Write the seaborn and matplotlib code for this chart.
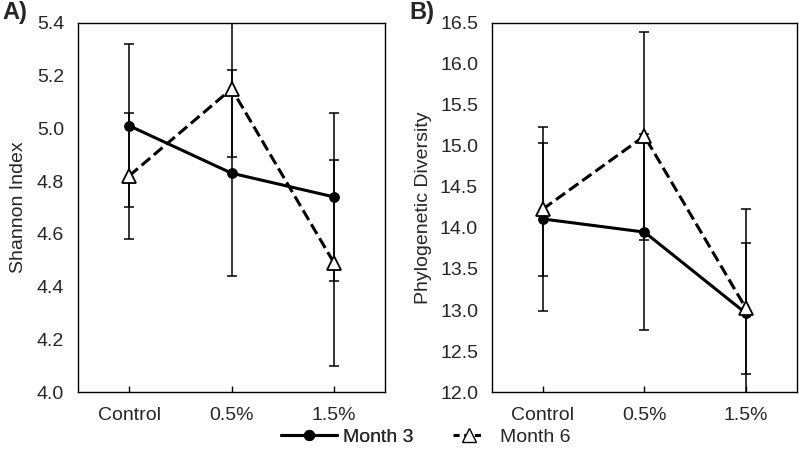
import numpy as np
import pandas as pd
import seaborn as sns
import matplotlib.pyplot as plt
from matplotlib.lines import Line2D

# dati
groups = ["Control", "0.5%", "1.5%"]

shannon_m3 = [5.01, 4.83, 4.74]
shannon_m3_err = [0.31, 0.39, 0.32]
shannon_m6 = [4.82, 5.15, 4.49]
shannon_m6_err = [0.24, 0.26, 0.39]

pd_m3 = [14.11, 13.95, 12.96]
pd_m3_err = [1.12, 1.19, 1.27]
pd_m6 = [14.23, 15.12, 13.02]
pd_m6_err = [0.81, 1.27, 0.80]

sns.set_style("white")
plt.rcParams["font.family"] = ["Liberation Sans", "DejaVu Sans"]

fig = plt.figure(figsize=(8, 4.58), dpi=100)
axA = fig.add_axes([0.0975, 0.144, 0.384, 0.806])
axB = fig.add_axes([0.615, 0.144, 0.381, 0.806])

xpos = np.arange(len(groups))


def draw_panel(ax, m3, m3_err, m6, m6_err):
    ax.errorbar(xpos, m3, yerr=m3_err, fmt="none", ecolor="black",
                elinewidth=1.1, capsize=3.5, capthick=1.1, zorder=1)
    ax.errorbar(xpos, m6, yerr=m6_err, fmt="none", ecolor="black",
                elinewidth=1.1, capsize=3.5, capthick=1.1, zorder=1)
    sns.lineplot(x=xpos, y=m3, ax=ax, color="black", linewidth=2.2,
                 marker="o", markersize=7, markerfacecolor="black",
                 markeredgecolor="black", zorder=3)
    sns.lineplot(x=xpos, y=m6, ax=ax, color="black", linewidth=2.2,
                 linestyle="--", dashes=(3, 2), marker="^", markersize=10,
                 markerfacecolor="white", markeredgecolor="black",
                 markeredgewidth=1.3, zorder=4)
    ax.set_xlim(-0.5, 2.5)
    ax.set_xticks(xpos)
    ax.set_xticklabels(groups)
    ax.tick_params(axis="x", direction="in", length=4, width=1, pad=11,
                   labelsize=14, bottom=True, color="black")
    ax.tick_params(axis="y", length=0, pad=10, labelsize=14)
    for s in ax.spines.values():
        s.set_color("black")
        s.set_linewidth(1.0)
        s.set_visible(True)
    if ax.get_legend():
        ax.get_legend().remove()


draw_panel(axA, shannon_m3, shannon_m3_err, shannon_m6, shannon_m6_err)
axA.set_ylim(4.0, 5.4)
axA.set_yticks(np.arange(4.0, 5.41, 0.2))
axA.set_yticklabels([f"{v:.1f}" for v in np.arange(4.0, 5.41, 0.2)])
axA.set_ylabel("Shannon Index", fontsize=14)
axA.yaxis.set_label_coords(-0.167, 0.5)

draw_panel(axB, pd_m3, pd_m3_err, pd_m6, pd_m6_err)
axB.set_ylim(12.0, 16.5)
axB.set_yticks(np.arange(12.0, 16.51, 0.5))
axB.set_yticklabels([f"{v:.1f}" for v in np.arange(12.0, 16.51, 0.5)])
axB.set_ylabel("Phylogenetic Diversity", fontsize=14)
axB.yaxis.set_label_coords(-0.197, 0.5)

fig.text(0.003, 0.972, "A)", fontsize=17, fontweight="bold", va="center")
fig.text(0.512, 0.972, "B)", fontsize=17, fontweight="bold", va="center")

# legenda
h3 = Line2D([], [], color="black", linewidth=2.2, marker="o", markersize=7)
h6 = Line2D([], [], color="black", linewidth=2.2, linestyle="--",
            dashes=(2, 1.5), marker="^", markersize=10,
            markerfacecolor="white", markeredgecolor="black")
leg1 = fig.legend([h3], ["Month 3"], loc="center", bbox_to_anchor=(0.434, 0.045),
                  frameon=False, handlelength=2.85, fontsize=14, handletextpad=0.3)
fig.add_artist(leg1)
fig.legend([h6], ["Month 6"], loc="center", bbox_to_anchor=(0.64, 0.045),
           frameon=False, handlelength=1.6, fontsize=14, handletextpad=0.8)

plt.savefig("out.png", dpi=100)
